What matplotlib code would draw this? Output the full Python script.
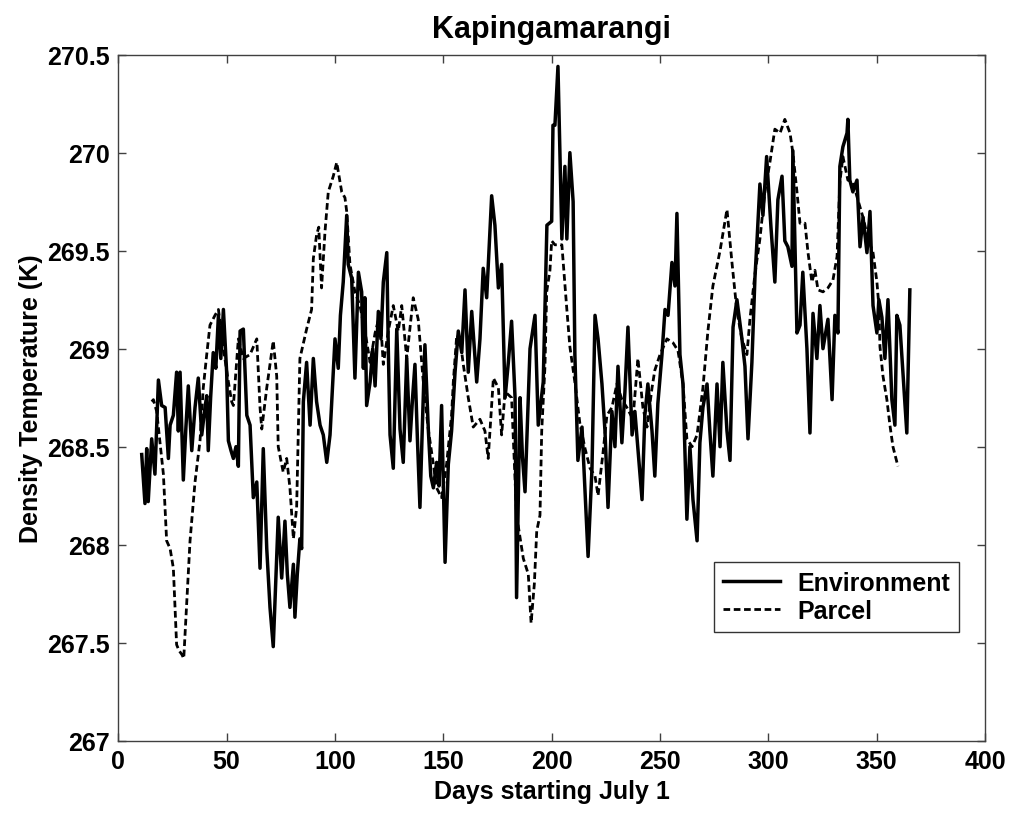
import matplotlib
matplotlib.use("Agg")
import matplotlib.pyplot as plt

plt.rcParams['font.family'] = ['Liberation Sans', 'DejaVu Sans']
plt.rcParams['font.weight'] = 'bold'

# Environment density temperature (K)
env_day = [10.8, 12.3, 13.1, 13.8, 15.4, 16.9, 18.5, 20.0, 21.6, 23.1, 23.9, 25.4, 26.9, 27.7,
           28.5, 30.0, 31.2, 32.3, 33.9, 35.4, 36.9, 38.5, 40.0, 40.8, 41.5, 42.6, 43.8, 45.0,
           46.2, 47.3, 48.5, 50.0, 50.8, 52.0, 53.1, 54.3, 55.4, 56.2, 57.7, 59.3, 60.8, 62.3,
           63.9, 65.4, 66.9, 68.5, 70.0, 71.5, 72.6, 73.8, 75.4, 76.9, 78.0, 79.2, 80.8, 81.5,
           82.6, 83.8, 84.6, 85.4, 86.9, 88.5, 90.0, 91.5, 93.1, 94.6, 96.2, 97.7, 99.2, 100.0,
           101.5, 102.5, 103.8, 105.4, 106.1, 107.7, 109.2, 110.8, 112.3, 113.1, 113.8, 114.6,
           116.2, 117.4, 118.5, 120.0, 121.2, 122.3, 123.9, 124.6, 125.4, 126.9, 128.5, 130.0,
           131.5, 133.1, 134.6, 135.8, 136.9, 138.0, 139.2, 140.3, 141.5, 143.1, 144.2, 145.4,
           146.9, 148.0, 149.2, 150.8, 152.3, 153.8, 155.4, 156.9, 158.5, 160.0, 161.5, 163.1,
           165.4, 166.9, 168.4, 170.0, 172.3, 173.8, 175.4, 176.9, 178.5, 180.0, 181.5, 183.1,
           183.8, 185.4, 186.5, 187.7, 190.0, 192.3, 193.8, 196.1, 197.8, 200.0, 200.6, 201.5,
           202.9, 204.7, 206.1, 207.0, 208.4, 209.9, 210.7, 212.1, 214.0, 215.4, 216.8, 218.6,
           220.0, 221.4, 223.2, 224.6, 226.0, 227.8, 229.2, 230.6, 232.4, 233.8, 235.2, 237.1,
           238.4, 239.8, 241.7, 243.0, 244.4, 246.3, 247.6, 249.0, 250.9, 252.3, 253.7, 255.5,
           256.9, 257.8, 259.2, 260.6, 262.4, 263.8, 265.2, 267.1, 268.4, 269.8, 271.7, 273.0,
           274.4, 276.3, 277.7, 279.0, 280.9, 282.3, 283.7, 285.5, 287.8, 289.2, 290.6, 292.4,
           293.8, 294.8, 296.1, 297.5, 299.2, 301.2, 303.0, 304.4, 306.3, 307.6, 309.0, 310.9,
           311.3, 313.2, 314.6, 315.9, 317.8, 319.2, 320.6, 322.4, 323.8, 325.2, 327.5, 329.4,
           330.7, 332.1, 333.0, 334.4, 336.3, 336.7, 337.6, 339.0, 340.9, 342.3, 343.7, 345.5,
           346.9, 348.3, 350.1, 351.0, 352.4, 353.8, 355.2, 357.0, 358.4, 359.3, 360.7, 362.1,
           363.9, 365.3]
env_temp = [268.46, 268.21, 268.49, 268.22, 268.54, 268.36, 268.84, 268.71, 268.70, 268.44, 268.61,
            268.66, 268.88, 268.58, 268.88, 268.33, 268.60, 268.81, 268.48, 268.70, 268.85, 268.56,
            268.70, 268.76, 268.48, 268.75, 268.98, 268.90, 269.17, 268.95, 269.20, 268.88, 268.53,
            268.48, 268.44, 268.50, 268.40, 269.09, 269.10, 268.66, 268.61, 268.24, 268.32, 267.88,
            268.49, 267.98, 267.68, 267.48, 267.80, 268.14, 267.83, 268.12, 267.85, 267.68, 267.90,
            267.63, 267.85, 268.03, 267.98, 268.73, 268.93, 268.61, 268.95, 268.73, 268.61, 268.56,
            268.42, 268.56, 268.88, 269.05, 268.90, 269.17, 269.34, 269.68, 269.43, 269.36, 268.85,
            269.39, 269.29, 268.90, 269.26, 268.71, 268.83, 269.00, 268.81, 269.19, 269.05, 269.34,
            269.49, 269.00, 268.56, 268.39, 269.10, 268.59, 268.42, 268.95, 268.53, 268.75, 268.92,
            268.55, 268.19, 268.60, 269.02, 268.58, 268.35, 268.29, 268.42, 268.30, 268.71, 267.91,
            268.41, 268.58, 268.88, 269.09, 268.98, 269.30, 268.88, 269.19, 268.83, 269.05, 269.41,
            269.26, 269.78, 269.63, 269.31, 269.43, 268.75, 268.93, 269.14, 268.75, 267.73, 268.75,
            268.45, 268.27, 269.00, 269.17, 268.61, 268.83, 269.63, 269.65, 270.14, 270.14, 270.44,
            269.56, 269.93, 269.56, 270.00, 269.75, 268.97, 268.43, 268.60, 268.27, 267.94, 268.39,
            269.17, 269.05, 268.82, 268.58, 268.19, 268.68, 268.50, 268.91, 268.52, 268.78, 269.11,
            268.56, 268.68, 268.49, 268.23, 268.66, 268.82, 268.58, 268.35, 268.72, 268.97, 269.20,
            269.17, 269.44, 269.32, 269.69, 268.97, 268.82, 268.13, 268.50, 268.23, 268.02, 268.52,
            268.70, 268.82, 268.58, 268.35, 268.82, 268.50, 268.93, 268.58, 268.43, 269.11, 269.25,
            269.05, 268.91, 268.54, 268.93, 269.36, 269.56, 269.84, 269.68, 269.98, 269.62, 269.34,
            269.76, 269.88, 269.55, 269.52, 269.42, 270.01, 269.08, 269.12, 269.39, 269.00, 268.57,
            269.18, 268.95, 269.22, 269.00, 269.15, 268.74, 269.17, 269.08, 269.93, 270.03, 270.10,
            270.17, 269.86, 269.80, 269.86, 269.52, 269.67, 269.49, 269.70, 269.22, 269.08, 269.25,
            269.16, 268.95, 269.25, 268.74, 268.61, 269.17, 269.12, 268.88, 268.57, 269.30]

# Parcel density temperature (K)
parcel_day = [15.4, 16.2, 17.7, 20.8, 22.3, 23.9, 25.4, 26.9, 28.0, 29.3, 30.2, 31.6, 33.1, 35.4,
              37.7, 39.2, 40.8, 42.3, 44.6, 46.2, 48.5, 50.8, 52.3, 53.1, 53.9, 55.4, 57.7, 60.8,
              63.9, 65.4, 66.2, 68.5, 71.5, 73.1, 73.8, 76.1, 77.7, 79.2, 80.8, 82.3, 83.8, 86.9,
              89.2, 90.0, 91.5, 92.5, 93.8, 95.4, 96.9, 99.2, 100.8, 103.1, 104.6, 105.4, 106.9,
              109.2, 111.5, 113.8, 116.2, 118.5, 120.8, 122.3, 124.6, 126.9, 129.2, 130.8, 133.1,
              136.1, 138.4, 140.6, 142.9, 145.4, 146.9, 149.2, 151.5, 153.8, 154.6, 156.2, 157.7,
              159.2, 161.5, 163.8, 166.9, 169.2, 170.7, 173.1, 175.4, 176.9, 178.5, 181.5, 183.8,
              186.9, 189.2, 190.5, 192.0, 193.1, 194.6, 195.4, 196.9, 197.7, 199.2, 200.0, 201.5,
              204.7, 207.0, 208.4, 210.7, 213.0, 215.4, 217.7, 220.0, 221.4, 223.7, 225.5, 227.8,
              230.1, 232.4, 234.7, 237.5, 239.8, 242.1, 244.0, 246.3, 247.6, 250.0, 253.2, 256.0,
              258.3, 260.6, 262.4, 264.8, 267.1, 269.8, 272.1, 274.4, 277.7, 280.9, 283.2, 285.5,
              287.8, 290.1, 291.5, 293.8, 296.1, 298.4, 300.7, 303.0, 305.4, 307.6, 310.0, 311.3,
              313.2, 314.6, 316.9, 318.3, 320.1, 321.5, 322.9, 325.2, 327.5, 329.8, 331.7, 333.0,
              334.4, 336.7, 339.0, 341.3, 343.7, 346.0, 348.3, 350.1, 351.0, 351.5, 352.9, 354.7,
              356.1, 357.5, 359.8]
parcel_temp = [268.73, 268.74, 268.68, 268.36, 268.02, 267.98, 267.88, 267.49, 267.46, 267.44, 267.42,
               267.71, 268.02, 268.32, 268.53, 268.80, 268.97, 269.12, 269.17, 269.20, 269.00, 268.83,
               268.73, 268.71, 268.83, 269.05, 268.95, 268.97, 269.05, 268.70, 268.59, 268.80, 269.04,
               268.86, 268.50, 268.37, 268.44, 268.29, 268.03, 268.19, 268.95, 269.10, 269.20, 269.46,
               269.58, 269.62, 269.31, 269.60, 269.80, 269.88, 269.95, 269.80, 269.77, 269.70, 269.43,
               269.29, 269.22, 269.09, 268.93, 269.08, 269.18, 268.92, 269.09, 269.22, 269.09, 269.22,
               268.95, 269.26, 269.15, 268.85, 268.60, 268.41, 268.29, 268.24, 268.41, 268.66, 268.83,
               269.07, 269.05, 268.92, 268.75, 268.60, 268.64, 268.58, 268.44, 268.85, 268.80, 268.56,
               268.78, 268.75, 268.15, 267.93, 267.85, 267.60, 267.80, 268.07, 268.15, 268.58, 268.91,
               269.29, 269.40, 269.55, 269.53, 269.53, 269.20, 269.01, 268.83, 268.62, 268.49, 268.39,
               268.35, 268.25, 268.47, 268.66, 268.70, 268.82, 268.74, 268.70, 268.64, 268.95, 268.70,
               268.60, 268.80, 268.89, 268.97, 269.05, 269.03, 268.99, 268.82, 268.54, 268.50, 268.56,
               268.80, 269.09, 269.32, 269.50, 269.71, 269.44, 269.19, 269.05, 268.97, 269.15, 269.38,
               269.56, 269.80, 269.95, 270.12, 270.10, 270.17, 270.10, 270.00, 269.80, 269.64, 269.64,
               269.49, 269.34, 269.40, 269.30, 269.29, 269.31, 269.35, 269.47, 269.85, 269.98, 269.86,
               269.85, 269.76, 269.67, 269.56, 269.49, 269.34, 269.22, 269.01, 268.86, 268.74, 268.61,
               268.50, 268.40]

x_ticks = [0, 50, 100, 150, 200, 250, 300, 350, 400]
y_ticks = [267, 267.5, 268, 268.5, 269, 269.5, 270, 270.5]
y_tick_labels = ['267', '267.5', '268', '268.5', '269', '269.5', '270', '270.5']

fig = plt.figure(figsize=(10.13, 8.2), dpi=100)
ax = fig.add_axes([0.1168, 0.0955, 0.8556, 0.8366])

ax.plot(env_day, env_temp, color='black', lw=2.5, label='Environment')
ax.plot(parcel_day, parcel_temp, color='black', lw=2.0, dashes=(2.4, 1.3), label='Parcel')

ax.set_xlim(0, 400)
ax.set_ylim(267, 270.5)
ax.set_xticks(x_ticks)
ax.set_yticks(y_ticks)
ax.set_yticklabels(y_tick_labels)
ax.tick_params(direction='in', top=True, right=True, length=6, width=1, color='#404040',
               labelsize=18, pad=6)
for s in ax.spines.values():
    s.set_color('#404040')
    s.set_linewidth(1)

ax.set_title('Kapingamarangi', fontsize=22, fontweight='bold', pad=13)
ax.set_xlabel('Days starting July 1', fontsize=18, fontweight='bold', labelpad=4)
ax.set_ylabel('Density Temperature (K)', fontsize=18, fontweight='bold', labelpad=3)

leg = ax.legend(loc='upper left', bbox_to_anchor=(0.687, 0.260), fontsize=18, frameon=True,
                fancybox=False, edgecolor='black', handlelength=2.3, handletextpad=0.7,
                borderpad=0.35, labelspacing=0.15, borderaxespad=0)
leg.get_frame().set_linewidth(1)

fig.savefig('out.png', dpi=100)
